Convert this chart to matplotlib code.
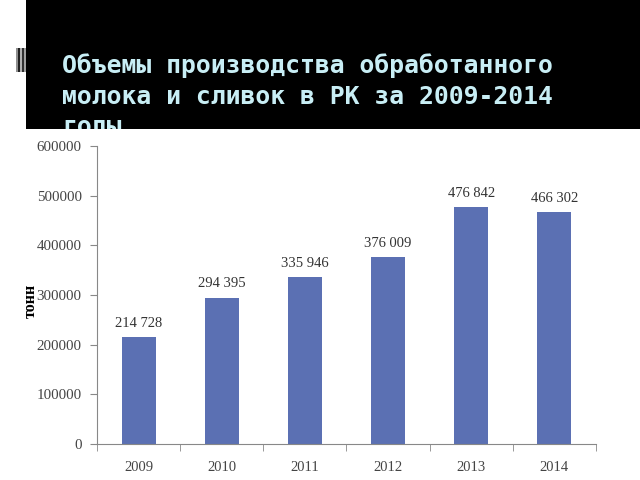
import matplotlib
matplotlib.use("Agg")
from matplotlib import pyplot as plt
from matplotlib.patches import Rectangle
import numpy as np

years = ["2009", "2010", "2011", "2012", "2013", "2014"]
volumes = [214728, 294395, 335946, 376009, 476842, 466302]
labels = ["214 728", "294 395", "335 946", "376 009", "476 842", "466 302"]
title = "Объемы производства обработанного\nмолока и сливок в РК за 2009-2014\nгоды"

fig = plt.figure(figsize=(6.4, 4.8), dpi=100)
fig.patch.set_facecolor("white")

# black title band
band = Rectangle((26 / 640, 1 - 129 / 480), 1 - 26 / 640, 129 / 480,
                 transform=fig.transFigure, facecolor="black", edgecolor="none", zorder=0)
fig.patches.append(band)

# small striped marker left of the band
for i, c in enumerate(["#909090", "#202020", "#b0b0b0", "#303030", "#a0a0a0"]):
    fig.patches.append(Rectangle(((16 + 2 * i) / 640, 1 - 72 / 480), 2 / 640, 24 / 480,
                                 transform=fig.transFigure, facecolor=c, edgecolor="none"))

t = fig.text(62 / 640, 1 - 53 / 480, title, color="#c8eef5", fontsize=17.8,
             family="DejaVu Sans Mono", fontweight="bold", va="top", ha="left",
             linespacing=1.36)
t.set_clip_path(band)

ax = fig.add_axes([97 / 640, 36 / 480, 499 / 640, 298 / 480])
x = np.arange(len(years))
ax.bar(x, volumes, width=0.41, color="#5b70b3", zorder=2)
for xi, v, lab in zip(x, volumes, labels):
    ax.text(xi, v + 15000, lab, ha="center", va="bottom", family="Liberation Serif",
            fontsize=10.5, color="#333333")

ax.set_xlim(-0.5, len(years) - 0.5)
ax.set_ylim(0, 600000)
ax.set_yticks(np.arange(0, 600001, 100000))
ax.set_yticklabels([str(v) for v in range(0, 600001, 100000)], family="Liberation Serif",
                   fontsize=10.8, color="#444444")
ax.set_xticks(x)
ax.set_xticklabels(years, family="Liberation Serif", fontsize=10.5, color="#444444")
ax.set_xticks(np.arange(-0.5, len(years)), minor=True)
ax.tick_params(axis="x", which="major", length=0, pad=12)
ax.tick_params(axis="x", which="minor", length=5, color="#888888")
ax.tick_params(axis="y", length=5, color="#888888", pad=6)
for s in ["top", "right"]:
    ax.spines[s].set_visible(False)
for s in ["left", "bottom"]:
    ax.spines[s].set_color("#888888")
ax.set_ylabel("тонн", family="Liberation Serif", fontweight="bold", fontsize=11.5,
              color="black")
ax.yaxis.set_label_coords(-0.116, 0.48)

fig.savefig("out.png", dpi=100)
